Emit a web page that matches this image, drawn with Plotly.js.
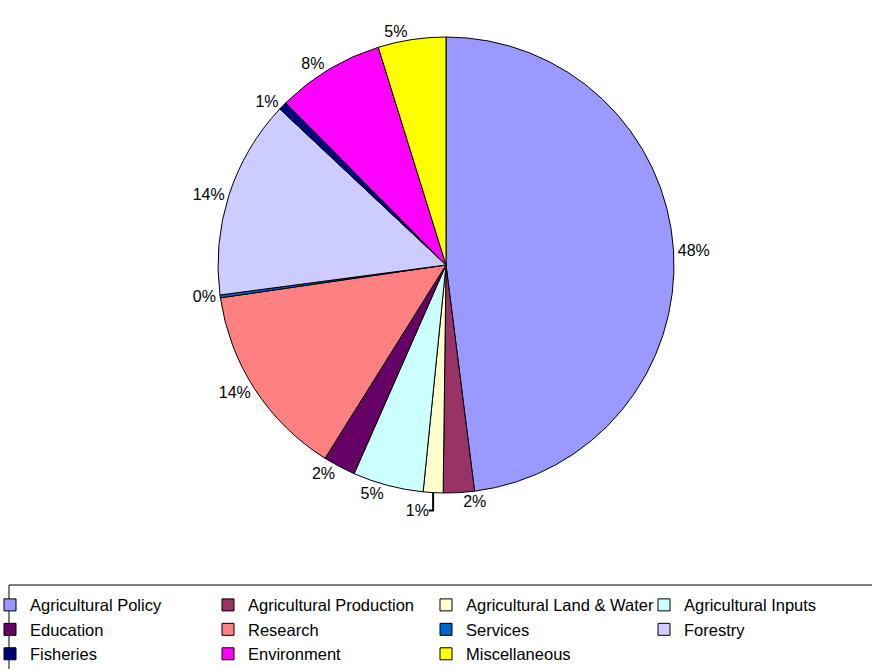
<!DOCTYPE html>
<html>
<head>
<meta charset="utf-8">
<script src="https://cdn.plot.ly/plotly-3.0.1.min.js"></script>
<style>html,body{margin:0;padding:0;background:#fff;}#chart{width:872px;height:669px;}</style>
</head>
<body>
<div id="chart"></div>
<script>
var categories = ["Agricultural Policy", "Agricultural Production", "Agricultural Land & Water", "Agricultural Inputs", "Education", "Research", "Services", "Forestry", "Fisheries", "Environment", "Miscellaneous"];
var shares = [48.0, 2.2, 1.4, 5.0, 2.3, 13.8, 0.2, 14.1, 0.6, 7.6, 4.8];
var sliceColors = ["#9999FF", "#993366", "#FFFFCC", "#CCFFFF", "#660066", "#FF8080", "#0066CC", "#CCCCFF", "#000080", "#FF00FF", "#FFFF00"];

var FONT = "Liberation Sans, Arial, sans-serif";

var trace = {
  type: "pie",
  labels: categories,
  values: shares,
  sort: false,
  direction: "clockwise",
  rotation: 0,
  marker: {colors: sliceColors, line: {color: "#000000", width: 1}},
  textinfo: "percent",
  texttemplate: "%{percent:.0%}",
  textposition: "outside",
  outsidetextfont: {family: FONT, size: 16, color: "#000"},
  hoverinfo: "label+percent",
  automargin: false
};

var layout = {
  width: 872,
  height: 669,
  margin: {l: 20, r: 0, t: 37, b: 176, autoexpand: false},
  paper_bgcolor: "#fff",
  font: {family: FONT, size: 16, color: "#000"},
  showlegend: true,
  legend: {
    orientation: "h",
    x: -0.0352,
    xanchor: "left",
    y: -0.2076,
    yanchor: "top",
    borderwidth: 0,
    bgcolor: "rgba(0,0,0,0)",
    entrywidth: 173,
    entrywidthmode: "pixels",
    itemwidth: 30,
    font: {family: FONT, size: 16.5, color: "#000"},
    traceorder: "normal"
  },
  shapes: [{
    type: "rect", xref: "paper", yref: "paper",
    x0: -0.0129, x1: 1.0012, y0: -0.2018, y1: -0.3904,
    line: {color: "#000", width: 1}, fillcolor: "rgba(0,0,0,0)", layer: "below"
  }]
};

Plotly.newPlot("chart", [trace], layout, {displayModeBar: false, staticPlot: true});
</script>
</body>
</html>
